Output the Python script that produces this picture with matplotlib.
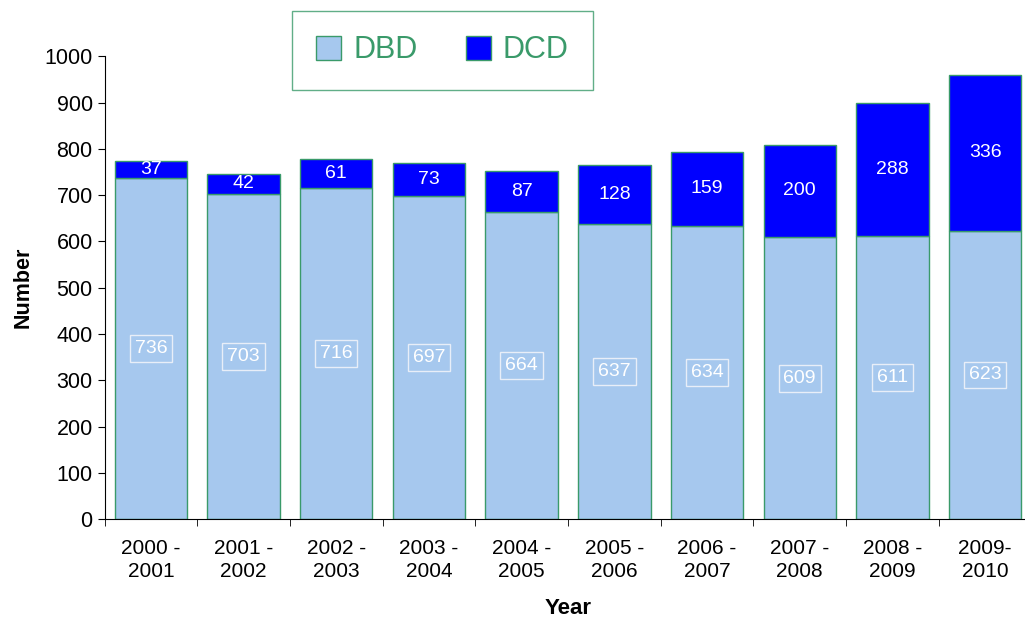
import matplotlib
matplotlib.use("Agg")
import matplotlib.pyplot as plt
import numpy as np

categories = ["2000 -\n2001", "2001 -\n2002", "2002 -\n2003", "2003 -\n2004", "2004 -\n2005",
              "2005 -\n2006", "2006 -\n2007", "2007 -\n2008", "2008 -\n2009", "2009-\n2010"]
dbd = [736, 703, 716, 697, 664, 637, 634, 609, 611, 623]
dcd = [37, 42, 61, 73, 87, 128, 159, 200, 288, 336]

plt.rcParams['font.family'] = ['Liberation Sans', 'DejaVu Sans']

fig = plt.figure(figsize=(10.25, 6.18), dpi=100)
ax = fig.add_axes([104.5 / 1025, 0.160, 927 / 1025, 0.749])

x = np.arange(len(categories))
w = 0.78
edge = '#3a9a6a'
ax.bar(x, dbd, width=w, color='#a6c8ee', edgecolor=edge, linewidth=1, label='DBD')
ax.bar(x, dcd, width=w, bottom=dbd, color='#0000ff', edgecolor=edge, linewidth=1, label='DCD')

for i in range(len(x)):
    ax.text(x[i], dbd[i] / 2, str(dbd[i]), ha='center', va='center', color='white', fontsize=14,
            bbox=dict(boxstyle='square,pad=0.25', fc='none', ec='#e8eef8', lw=1))
    ax.text(x[i], dbd[i] + dcd[i] / 2, str(dcd[i]), ha='center', va='center', color='white', fontsize=14)

ax.set_xlim(-0.5, len(x) - 0.5)
ax.set_ylim(0, 1000)
ax.set_yticks(np.arange(0, 1001, 100))
ax.set_xticks(x)
ax.set_xticklabels(categories, fontsize=15, linespacing=1.3)
ax.tick_params(axis='x', length=0, pad=14)
ax.set_xticks(np.arange(-0.5, len(x), 1), minor=True)
ax.tick_params(axis='x', which='minor', length=5, color='black')
ax.tick_params(axis='y', labelsize=15.5, length=5)
for s in ['top', 'right']:
    ax.spines[s].set_visible(False)

ax.set_ylabel('Number', fontsize=15.5, fontweight='bold', labelpad=8)
ax.set_xlabel('Year', fontsize=16, fontweight='bold', labelpad=12)

leg = fig.legend(loc='upper left', bbox_to_anchor=(292 / 1025, 1 - 11 / 618), ncol=2,
                 fontsize=22, frameon=True, fancybox=False, handlelength=0.8, handleheight=0.8,
                 columnspacing=1.6, borderpad=0.8, borderaxespad=0, handletextpad=0.4)
leg.get_frame().set_edgecolor(edge)
leg.get_frame().set_linewidth(1)
for t in leg.get_texts():
    t.set_color(edge)

fig.savefig('out.png', dpi=100)
